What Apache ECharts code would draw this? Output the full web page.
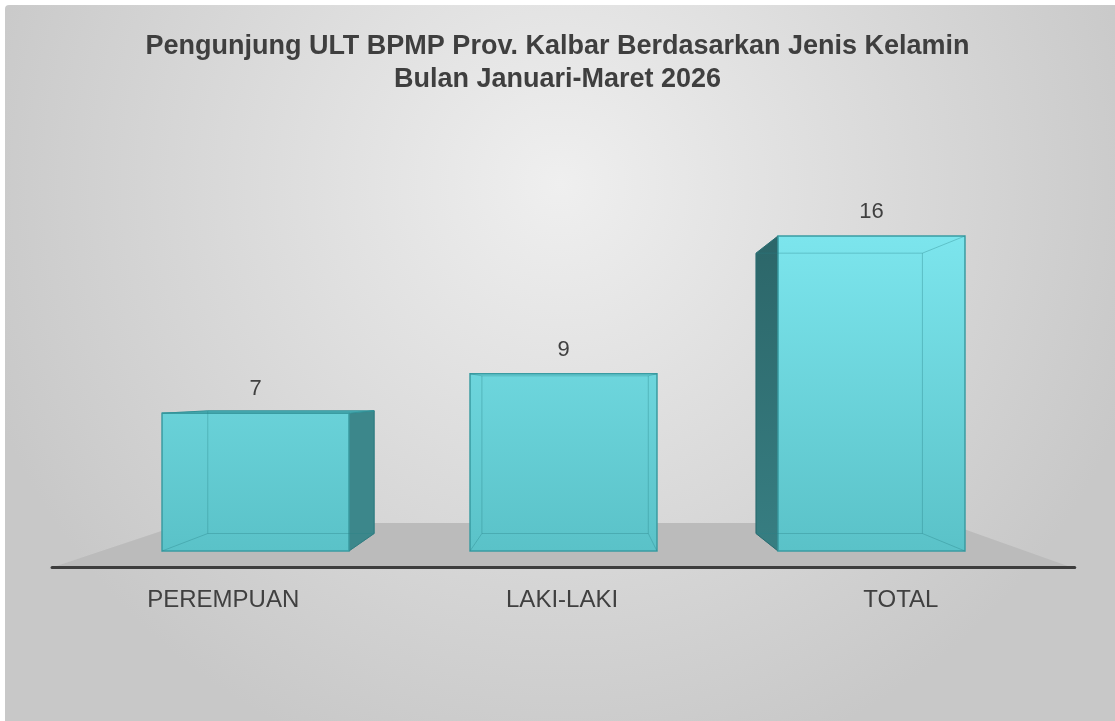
<!DOCTYPE html>
<html>
<head>
<meta charset="utf-8">
<script src="https://cdn.jsdelivr.net/npm/echarts@6/dist/echarts.min.js"></script>
<style>
html, body { margin: 0; padding: 0; background: #fff; }
#chart { width: 1115px; height: 721px; }
</style>
</head>
<body>
<div id="chart"></div>
<script>
// data
const kategori = ['PEREMPUAN', 'LAKI-LAKI', 'TOTAL'];
const jumlah = [7, 9, 16];
const judul = ['Pengunjung ULT BPMP Prov. Kalbar Berdasarkan Jenis Kelamin', 'Bulan Januari-Maret 2026'];

const FONT = '"Liberation Sans", Arial, sans-serif';
// perspektif: titik hilang & skala kedalaman
const VP = [578, 392];
const BACK = 0.89;       // sisi belakang balok
const FLOOR_FRONT = 1.11;
const FLOOR_BACK = 0.824;
const LABEL_S = 1.1;

function proj(x, y, s) {
    return [VP[0] + (x - VP[0]) * s, VP[1] + (y - VP[1]) * s];
}

const chart = echarts.init(document.getElementById('chart'));

function renderFloor(params, api) {
    const cs = params.coordSys;
    const base = api.coord([0, 0])[1];
    const fl = proj(cs.x, base, FLOOR_FRONT),
        fr = proj(cs.x + cs.width, base, FLOOR_FRONT),
        bl = proj(cs.x, base, FLOOR_BACK),
        br = proj(cs.x + cs.width, base, FLOOR_BACK);
    return {
        type: 'group',
        children: [{
            type: 'polygon',
            shape: { points: [fl, bl, br, fr] },
            style: { fill: '#bbbbbb' }
        }, {
            type: 'line',
            shape: { x1: fl[0] + 3, y1: fl[1] - 1, x2: fr[0], y2: fr[1] - 1 },
            style: { stroke: '#3d3d3d', lineWidth: 3, lineCap: 'round' }
        }]
    };
}

function renderBar(params, api) {
    const i = api.value(0);
    const v = api.value(1);
    const top = api.coord([i, v]);
    const base = api.coord([i, 0]);
    const bw = api.size([1, 0])[0] * 0.607;
    const L = top[0] - bw / 2, R = top[0] + bw / 2, T = top[1], B = base[1];
    const bTL = proj(L, T, BACK), bTR = proj(R, T, BACK),
        bBL = proj(L, B, BACK), bBR = proj(R, B, BACK);
    const yTop = api.coord([0, Math.max.apply(null, jumlah)])[1];
    const frontFill = new echarts.graphic.LinearGradient(0, yTop, 0, B, [
        { offset: 0, color: '#7ce5ed' },
        { offset: 1, color: '#5ac2c8' }
    ], true);
    const edge = '#3a9ca2';
    const inner = 'rgba(40,130,136,0.35)';
    const lbl = proj(top[0], B, LABEL_S);

    const faces = [];
    // sisi kiri (tampak bila balok di kanan titik hilang)
    if (bTL[0] < L) {
        faces.push({
            type: 'polygon',
            shape: { points: [[L, T], bTL, bBL, [L, B]] },
            style: { fill: new echarts.graphic.LinearGradient(0, 0, 0, 1, [
                { offset: 0, color: '#2c6669' },
                { offset: 1, color: '#377e82' }
            ]), stroke: '#2a6266', lineWidth: 1 }
        });
    }
    // sisi kanan
    if (bTR[0] > R) {
        faces.push({
            type: 'polygon',
            shape: { points: [[R, T], bTR, bBR, [R, B]] },
            style: { fill: '#3c878b', stroke: '#347a7e', lineWidth: 1 }
        });
    }
    // atas (tampak bila di bawah titik hilang)
    if (bTL[1] < T) {
        faces.push({
            type: 'polygon',
            shape: { points: [[L, T], bTL, bTR, [R, T]] },
            style: { fill: '#4fb4ba', stroke: edge, lineWidth: 1 }
        });
    }

    return {
        type: 'group',
        children: faces.concat([
            // depan
            {
                type: 'rect',
                shape: { x: L, y: T, width: R - L, height: B - T },
                style: { fill: frontFill, stroke: edge, lineWidth: 1.5 }
            },
            // rusuk belakang (tembus pandang)
            {
                type: 'polyline',
                shape: { points: [bTL, bTR, bBR, bBL, bTL] },
                style: { fill: null, stroke: inner, lineWidth: 1 }
            },
            { type: 'line', shape: { x1: L, y1: T, x2: bTL[0], y2: bTL[1] }, style: { stroke: inner, lineWidth: 1 } },
            { type: 'line', shape: { x1: R, y1: T, x2: bTR[0], y2: bTR[1] }, style: { stroke: inner, lineWidth: 1 } },
            { type: 'line', shape: { x1: L, y1: B, x2: bBL[0], y2: bBL[1] }, style: { stroke: inner, lineWidth: 1 } },
            { type: 'line', shape: { x1: R, y1: B, x2: bBR[0], y2: bBR[1] }, style: { stroke: inner, lineWidth: 1 } },
            // nilai
            {
                type: 'text',
                style: {
                    text: String(v), x: top[0], y: T - 24,
                    align: 'center', verticalAlign: 'middle',
                    fontSize: 22, fontFamily: FONT, fill: '#404040'
                }
            },
            // kategori
            {
                type: 'text',
                style: {
                    text: kategori[i], x: lbl[0], y: B + 49,
                    align: 'center', verticalAlign: 'middle',
                    fontSize: 24, fontFamily: FONT, fill: '#404040'
                }
            }
        ])
    };
}

chart.setOption({
    animation: false,
    graphic: [{
        type: 'rect',
        z: -10,
        shape: { x: 5, y: 5, width: 1110, height: 716, r: [4, 0, 0, 0] },
        style: {
            fill: new echarts.graphic.RadialGradient(0.5, 0.25, 0.85, [
                { offset: 0, color: '#efefef' },
                { offset: 1, color: '#c8c8c8' }
            ])
        }
    }],
    title: {
        text: judul.join('\n'),
        left: 'center',
        top: 25,
        textStyle: {
            fontFamily: FONT,
            fontSize: 27,
            fontWeight: 'bold',
            color: '#3f3f3f',
            lineHeight: 33
        }
    },
    grid: { left: 101.5, right: 89.5, top: 157.25, bottom: 170 },
    xAxis: { type: 'category', data: kategori, show: false },
    yAxis: { type: 'value', min: 0, max: 20, show: false },
    series: [{
        type: 'custom',
        name: 'lantai',
        z: 1,
        silent: true,
        data: [[0, 0]],
        renderItem: renderFloor
    }, {
        type: 'custom',
        name: 'Pengunjung',
        z: 2,
        data: jumlah.map((v, i) => [i, v]),
        encode: { x: 0, y: 1 },
        renderItem: renderBar
    }]
});
</script>
</body>
</html>
